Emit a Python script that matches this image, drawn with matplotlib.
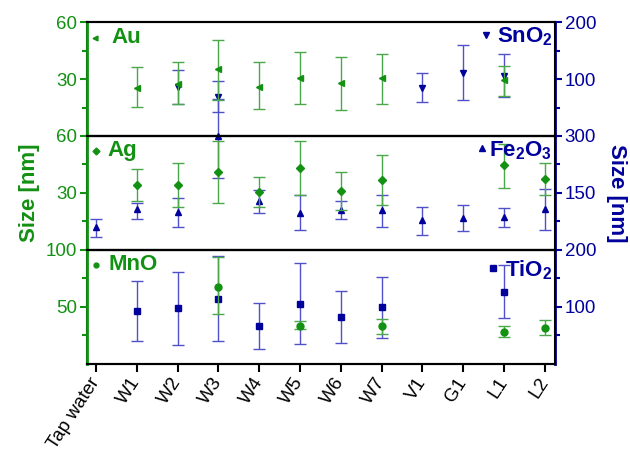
import numpy as np
import matplotlib.pyplot as plt

plt.rcParams['font.family'] = ['Liberation Sans', 'DejaVu Sans']
plt.rcParams['mathtext.fontset'] = 'custom'
plt.rcParams['mathtext.rm'] = 'Liberation Sans'
plt.rcParams['mathtext.bf'] = 'Liberation Sans:bold'

nan = np.nan
samples = ['Tap water', 'W1', 'W2', 'W3', 'W4', 'W5', 'W6', 'W7', 'V1', 'G1', 'L1', 'L2']

# top panel: Au (left axis), SnO2 (right axis)
au_size = [nan, 25.6, 27.5, 35.3, 26.0, 30.7, 28.1, 30.4, nan, nan, 29.5, nan]
au_low = [nan, 15.4, 16.8, 19.3, 14.2, 16.7, 13.7, 16.7, nan, nan, 21.4, nan]
au_high = [nan, 36.2, 39.1, 50.5, 38.8, 44.4, 41.7, 43.5, nan, nan, 36.8, nan]
sno2_size = [nan, nan, 87.0, 69.0, nan, nan, nan, nan, 84.8, 111.7, 105.3, nan]
sno2_low = [nan, nan, 56.0, 42.6, nan, nan, nan, nan, 60.2, 64.3, 69.0, nan]
sno2_high = [nan, nan, 117.0, 96.5, nan, nan, nan, nan, 111.0, 160.8, 143.9, nan]

# middle panel: Ag (left axis), Fe2O3 (right axis)
ag_size = [nan, 34.2, 34.2, 41.1, 30.4, 43.2, 31.2, 36.5, nan, nan, 44.4, 37.2]
ag_low = [nan, 25.9, 22.5, 24.9, 22.8, 28.8, 21.1, 23.7, nan, nan, 32.6, 28.8]
ag_high = [nan, 42.8, 45.8, 57.5, 38.1, 57.4, 40.9, 50.0, nan, nan, 55.8, 45.9]
fe2o3_size = [59.7, 107.9, 99.2, 300.0, 128.0, 98.2, 105.3, 104.4, 78.9, 85.0, 87.7, 107.9]
fe2o3_low = [33.3, 81.6, 61.3, 188.6, 98.2, 52.6, 80.7, 59.7, 39.5, 49.1, 60.5, 52.6]
fe2o3_high = [81.6, 124.6, 137.7, 397.0, 157.0, 144.0, 129.0, 144.7, 114.0, 119.3, 111.3, 161.3]

# bottom panel: MnO (left axis), TiO2 (right axis)
mno_size = [nan, nan, nan, 67.8, nan, 33.6, nan, 33.0, nan, nan, 28.4, 31.9]
mno_low = [nan, nan, nan, 43.9, nan, 30.4, nan, 26.3, nan, nan, 23.7, 25.2]
mno_high = [nan, nan, nan, 93.6, nan, 37.7, nan, 39.5, nan, nan, 33.3, 38.3]
tio2_size = [nan, 93.0, 98.2, 114.6, 66.7, 105.3, 83.0, 99.4, nan, nan, 126.3, nan]
tio2_low = [nan, 39.8, 33.9, 40.4, 26.9, 35.1, 36.8, 45.0, nan, nan, 80.2, nan]
tio2_high = [nan, 146.1, 161.4, 188.8, 107.6, 176.6, 128.6, 153.2, nan, nan, 173.2, nan]

green = '#139113'
green_err = '#4aa84a'
blue = '#00009c'
blue_err = '#5050c8'

x = np.arange(len(samples))


def draw(ax, v, lo, hi, fmt, col, ecol, clip=True):
    v, lo, hi = np.array(v), np.array(lo), np.array(hi)
    ms = 4 if fmt == 'D' else 5
    ax.errorbar(x, v, yerr=[v - lo, hi - v], fmt=fmt, ms=ms, color=col,
                ecolor=ecol, elinewidth=1, capsize=4, capthick=1, clip_on=clip)


fig = plt.figure(figsize=(6.3, 4.51), dpi=100)
panels = [
    # bottom y, left ylim/ticks, right ylim/ticks, series, names
    (0.698, 60, [30, 60], 200, [100, 200],
     (au_size, au_low, au_high, '<'), (sno2_size, sno2_low, sno2_high, 'v'),
     ('Au', 0.017, 0.053, 0.862), ('SnO$_\\mathbf{2}$', 0.853, 0.876, 0.87)),
    (0.446, 60, [30, 60], 300, [150, 300],
     (ag_size, ag_low, ag_high, 'D'), (fe2o3_size, fe2o3_low, fe2o3_high, '^'),
     ('Ag', 0.019, 0.043, 0.871), ('Fe$_\\mathbf{2}$O$_\\mathbf{3}$', 0.844, 0.859, 0.87)),
    (0.193, 100, [50, 100], 200, [100, 200],
     (mno_size, mno_low, mno_high, 'o'), (tio2_size, tio2_low, tio2_high, 's'),
     ('MnO', 0.019, 0.047, 0.871), ('TiO$_\\mathbf{2}$', 0.868, 0.893, 0.82)),
]

for i, (b, lmax, lt, rmax, rt, ls, rs, lname, rname) in enumerate(panels):
    ax = fig.add_axes([0.138, b, 0.743, 0.2528])
    tw = ax.twinx()
    ax.set_zorder(tw.get_zorder() + 1)
    ax.patch.set_visible(False)
    tw.patch.set_visible(False)

    draw(tw, rs[0], rs[1], rs[2], rs[3], blue, blue_err, clip=(i != 1))
    draw(ax, ls[0], ls[1], ls[2], ls[3], green, green_err)

    ax.set_xlim(-0.22, 11.25)
    ax.set_ylim(0, lmax)
    tw.set_ylim(0, rmax)
    ax.set_yticks(lt)
    ax.set_yticks([t - lt[0] / 2 for t in lt], minor=True)
    tw.set_yticks(rt)
    tw.set_yticks([t - rt[0] / 2 for t in rt], minor=True)

    for a in (ax, tw):
        for s in a.spines.values():
            s.set_linewidth(1.5)
            s.set_color('black')
    ax.spines['left'].set_color(green)
    ax.spines['left'].set_linewidth(2)
    tw.spines['right'].set_color(blue)
    tw.spines['right'].set_linewidth(2)

    ax.tick_params(axis='y', which='major', direction='out', length=5, width=1.5,
                   colors=green, labelsize=13.5, pad=2)
    ax.tick_params(axis='y', which='minor', direction='out', length=3.5, width=1.5,
                   colors=green)
    tw.tick_params(axis='y', which='major', direction='out', length=5, width=1.5,
                   colors=blue, labelsize=13.5, pad=2)
    tw.tick_params(axis='y', which='minor', direction='out', length=3.5, width=1.5,
                   colors=blue)

    # inline labels with marker symbols
    ax.plot([lname[1]], [lname[3]], ls[3], ms=3.5, color=green, transform=ax.transAxes,
            clip_on=False)
    ax.text(lname[2], lname[3], lname[0], transform=ax.transAxes, fontsize=16,
            fontweight='bold', color=green, va='center', ha='left')
    ax.plot([rname[1]], [rname[3] + 0.02], rs[3], ms=4, color=blue, transform=ax.transAxes,
            clip_on=False)
    ax.text(rname[2], rname[3], rname[0], transform=ax.transAxes, fontsize=16,
            fontweight='bold', color=blue, va='center', ha='left')

    if i < 2:
        ax.tick_params(axis='x', which='both', bottom=False, labelbottom=False)
    else:
        ax.set_xticks(x)
        ax.set_xticklabels(samples, rotation=57, ha='right', va='center',
                           rotation_mode='anchor', fontsize=13.5)
        ax.tick_params(axis='x', direction='out', length=6, width=1.5, pad=5)
    tw.tick_params(axis='x', which='both', bottom=False, labelbottom=False)

    if i == 1:
        ax.set_ylabel('Size [nm]', color=green, fontsize=16, fontweight='bold', labelpad=12)
        tw.set_ylabel('Size [nm]', color=blue, fontsize=16, fontweight='bold',
                      rotation=270, labelpad=22)

fig.savefig('out.png', dpi=100)
